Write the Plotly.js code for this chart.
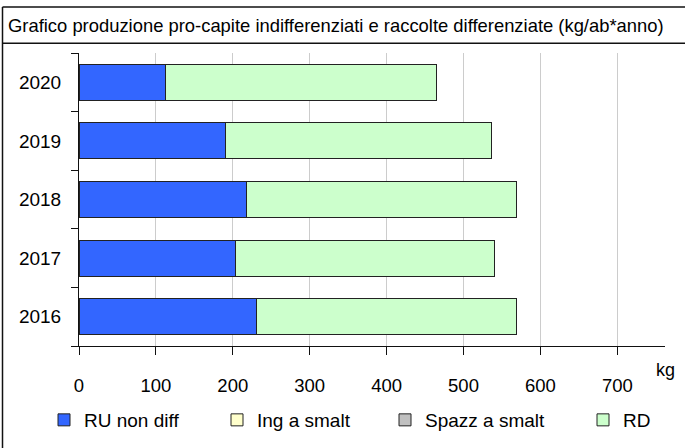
<!DOCTYPE html>
<html>
<head>
<meta charset="utf-8">
<script src="https://cdn.plot.ly/plotly-3.0.1.min.js"></script>
<style>html,body{margin:0;padding:0;background:#fff;}#chart{width:685px;height:448px;}</style>
</head>
<body>
<div id="chart"></div>
<script>
// Data
const years = ['2016', '2017', '2018', '2019', '2020'];
const ruNonDiff = [231, 203, 218, 190, 112];
const ingSmalt = [0, 0, 0, 0, 0];
const spazzSmalt = [0, 0, 0, 0, 0];
const rd = [338, 337, 351, 347, 353];
const xTicks = [0, 100, 200, 300, 400, 500, 600, 700];
const seriesNames = ['RU non diff', 'Ing a smalt', 'Spazz a smalt', 'RD'];
const seriesColors = ['#3366ff', '#ffffcc', '#c0c0c0', '#ccffcc'];
const titleText = 'Grafico produzione pro-capite indifferenziati e raccolte differenziate (kg/ab*anno)';
const unitText = 'kg';

const FONT = "'Liberation Sans', Arial, sans-serif";

// Layout geometry (pixels)
const W = 685, H = 448;
const M = {l: 79, r: 20, t: 53, b: 102, autoexpand: false};
const PW = W - M.l - M.r, PH = H - M.t - M.b;
const px2xf = px => (px - M.l) / PW;
const py2yf = py => 1 - (py - M.t) / PH;

const values = [ruNonDiff, ingSmalt, spazzSmalt, rd];
const legendNames = ['legend', 'legend2', 'legend3', 'legend4'];
const traces = seriesNames.map((name, i) => ({
  type: 'bar',
  orientation: 'h',
  name: name,
  y: years,
  x: values[i],
  legend: legendNames[i],
  marker: {color: seriesColors[i], line: {color: '#222222', width: 1}},
  hoverinfo: 'x+name'
}));

const legendTextX = [82, 255, 423, 621];
const legendY = py2yf(420);
const layout = {
  width: W, height: H,
  margin: M,
  paper_bgcolor: '#ffffff',
  plot_bgcolor: '#ffffff',
  font: {family: FONT, size: 19, color: '#000000'},
  barmode: 'stack',
  bargap: 0.387,
  title: {
    text: titleText,
    x: 8 / W, xanchor: 'left', xref: 'container',
    y: 1 - 25.5 / H, yanchor: 'middle', yref: 'container',
    font: {family: FONT, size: 18.4, color: '#000000'}
  },
  xaxis: {
    range: [0, 762],
    tickvals: xTicks,
    ticktext: xTicks.map(String),
    showgrid: true, gridcolor: '#cccccc', gridwidth: 1,
    zeroline: false,
    showline: true, linecolor: '#111111', linewidth: 1,
    ticks: 'outside', ticklen: 8, tickcolor: '#111111', tickwidth: 1,
    ticklabelstandoff: 15,
    tickfont: {family: FONT, size: 18.5, color: '#000000'},
    fixedrange: true
  },
  yaxis: {
    type: 'category',
    categoryorder: 'array', categoryarray: years,
    showgrid: false, zeroline: false,
    showline: true, linecolor: '#111111', linewidth: 1,
    ticks: 'outside', tickson: 'boundaries', ticklen: 7, tickcolor: '#111111', tickwidth: 1,
    ticklabelstandoff: 13,
    tickfont: {family: FONT, size: 19, color: '#000000'},
    fixedrange: true
  },
  annotations: [{
    text: unitText, xref: 'paper', yref: 'paper',
    x: px2xf(665), y: py2yf(370), xanchor: 'center', yanchor: 'middle',
    showarrow: false, font: {family: FONT, size: 18, color: '#000000'}
  }],
  shapes: [
    {type: 'line', xref: 'paper', yref: 'paper', x0: px2xf(2.5), x1: px2xf(2.5), y0: py2yf(7), y1: py2yf(460), line: {color: '#111111', width: 1.5}},
    {type: 'line', xref: 'paper', yref: 'paper', x0: px2xf(2.5), x1: px2xf(700), y0: py2yf(7), y1: py2yf(7), line: {color: '#111111', width: 1.5}},
    {type: 'line', xref: 'paper', yref: 'paper', x0: px2xf(2.5), x1: px2xf(700), y0: py2yf(43.3), y1: py2yf(43.3), line: {color: '#111111', width: 1.5}}
  ],
  showlegend: true
};
legendNames.forEach((ln, i) => {
  layout[ln] = {
    x: px2xf(legendTextX[i] - 38), xanchor: 'left',
    y: legendY, yanchor: 'middle',
    orientation: 'h',
    bgcolor: 'rgba(0,0,0,0)',
    borderwidth: 0,
    font: {family: FONT, size: 19, color: '#000000'},
    itemclick: false, itemdoubleclick: false
  };
});

Plotly.newPlot('chart', traces, layout, {displayModeBar: false, staticPlot: true});
</script>
</body>
</html>
